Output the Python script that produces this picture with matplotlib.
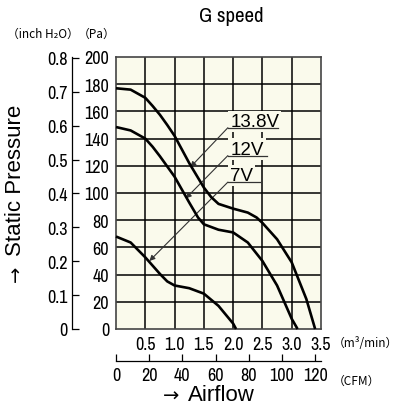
import matplotlib
matplotlib.use("Agg")
import matplotlib.pyplot as plt

# airflow in m3/min, static pressure in Pa
flow_138 = [0, 0.25, 0.5, 0.625, 0.75, 0.875, 1.0, 1.25, 1.5, 1.625, 1.75, 2.0, 2.25, 2.4, 2.5, 2.75, 3.0, 3.25, 3.4]
pres_138 = [177, 176, 170, 164, 157.5, 150, 142, 122, 104, 97, 92, 88.5, 85.6, 82, 78, 66, 49, 22, 0]
flow_12 = [0, 0.25, 0.5, 0.625, 0.75, 1.0, 1.25, 1.4, 1.5, 1.75, 2.0, 2.25, 2.5, 2.75, 3.0, 3.1]
pres_12 = [148.5, 146, 140, 134, 127, 112, 93, 82, 77, 73, 71, 63.6, 50, 32, 7.5, 0]
flow_7 = [0, 0.25, 0.5, 0.75, 0.875, 1.0, 1.25, 1.5, 1.75, 2.0, 2.05]
pres_7 = [68, 63.6, 52.7, 40.5, 35, 32, 30, 26, 17, 4, 0]

labels = ["13.8V", "12V", "7V"]
# arrow tips (on curves) and label anchor points
tips = [(1.27, 119), (1.19, 96), (0.57, 50)]
anchors = [(1.91, 148), (1.91, 127.5), (1.91, 108)]
underline_end = [2.77, 2.57, 2.46]

m3_ticks = [0.5, 1.0, 1.5, 2.0, 2.5, 3.0, 3.5]
cfm_ticks = [0, 20, 40, 60, 80, 100, 120]
pa_ticks = [0, 20, 40, 60, 80, 100, 120, 140, 160, 180, 200]
inch_ticks = [0, 0.1, 0.2, 0.3, 0.4, 0.5, 0.6, 0.7, 0.8]

NARROW = ["Archivo Narrow", "DejaVu Sans"]
SANS = ["Liberation Sans", "DejaVu Sans"]
JP = ["Noto Sans CJK JP", "DejaVu Sans"]
BG = "#fafaec"

fig = plt.figure(figsize=(3.98, 4.10), dpi=100)
L, R, B, T = 116 / 398, 321 / 398, 1 - 330 / 410, 1 - 58 / 410
ax = fig.add_axes([L, B, R - L, T - B])
ax.set_facecolor(BG)
ax.set_xlim(0, 3.5)
ax.set_ylim(0, 200)

for x in m3_ticks[:-1]:
    ax.axvline(x, color="black", lw=1.1, zorder=1)
for y in pa_ticks[1:-1]:
    ax.axhline(y, color="black", lw=1.1, zorder=1)

for fx, py in [(flow_138, pres_138), (flow_12, pres_12), (flow_7, pres_7)]:
    ax.plot(fx, py, color="black", lw=1.9, zorder=4, clip_on=False,
            solid_capstyle="butt", solid_joinstyle="round")

for lab, tip, anc, ue in zip(labels, tips, anchors, underline_end):
    ax.text(anc[0] + 0.04, anc[1] + 1.5, lab, fontsize=13.5, family=SANS,
            va="baseline", ha="left", zorder=3,
            bbox=dict(facecolor=BG, edgecolor="none", pad=1.5))
    ax.plot([anc[0], ue], [anc[1], anc[1]], color="#333333", lw=0.9, zorder=3)
    ax.annotate("", xy=tip, xytext=anc, zorder=3,
                arrowprops=dict(arrowstyle="-|>", color="#333333", lw=0.8,
                                shrinkA=0, shrinkB=0, mutation_scale=8))

for s in ax.spines.values():
    s.set_linewidth(1.2)
    s.set_color("#444444")
ax.set_xticks(m3_ticks)
ax.set_xticklabels([f"{v:.1f}" for v in m3_ticks], family=NARROW, fontsize=13)
ax.set_yticks(pa_ticks)
ax.set_yticklabels([str(v) for v in pa_ticks], family=NARROW, fontsize=13)
ax.tick_params(length=0, pad=5)

# inch H2O axis
axi = fig.add_axes([72 / 398, B, 0.0001, T - B])
axi.set_ylim(0, 200 / 249.09)
for k in ["top", "right", "bottom"]:
    axi.spines[k].set_visible(False)
axi.spines["left"].set_linewidth(0.9)
axi.set_xticks([])
axi.set_yticks(inch_ticks)
axi.set_yticklabels(["0" if v == 0 else f"{v:.1f}" for v in inch_ticks],
                    family=NARROW, fontsize=13)
axi.tick_params(axis="y", direction="in", length=5, width=0.9, pad=3)
axi.patch.set_visible(False)

# CFM axis
axc = fig.add_axes([L, 1 - 362 / 410, R - L, 0.0001])
axc.set_xlim(0, 3.5 * 35.315)
for k in ["top", "right", "left"]:
    axc.spines[k].set_visible(False)
axc.spines["bottom"].set_linewidth(0.9)
axc.set_yticks([])
axc.set_xticks(cfm_ticks)
axc.set_xticklabels([str(v) for v in cfm_ticks], family=NARROW, fontsize=13)
axc.tick_params(axis="x", direction="in", length=5, width=0.9, pad=4)
axc.patch.set_visible(False)

fig.text(231 / 398, 1 - 17 / 410, "G speed", family=NARROW, fontsize=15,
         ha="center", va="center")
fig.text(7 / 398, 1 - 34 / 410, "（inch H₂O）", family=JP, fontsize=8.5,
         ha="left", va="center")
fig.text(78 / 398, 1 - 34 / 410, "（Pa）", family=JP, fontsize=8.5,
         ha="left", va="center")
fig.text(333 / 398, 1 - 344 / 410, "（m³/min）", family=JP, fontsize=8.5,
         ha="left", va="center")
fig.text(333 / 398, 1 - 381 / 410, "（CFM）", family=JP, fontsize=8.5,
         ha="left", va="center")

# axis titles: arrow glyph drawn separately so it keeps a long shaft
fig.text(171 / 398, 1 - 396 / 410, "→", family="DejaVu Sans", fontsize=14,
         ha="center", va="center")
fig.text(188 / 398, 1 - 396 / 410, "Airflow", family=SANS, fontsize=16,
         ha="left", va="center")
fig.text(16 / 398, 1 - 274 / 410, "→", family="DejaVu Sans", fontsize=14,
         ha="center", va="center", rotation=90)
fig.text(16 / 398, 1 - 180 / 410, "Static Pressure", family=SANS, fontsize=16,
         ha="center", va="center", rotation=90)

fig.savefig("out.png", dpi=100, facecolor="white")
